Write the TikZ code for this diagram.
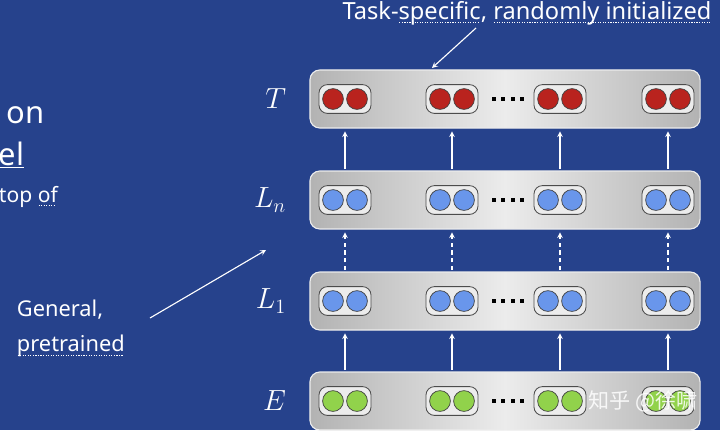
\documentclass[tikz,border=0pt]{standalone}
\usepackage{fontspec}
\setsansfont{Noto Sans}
\newfontfamily\cjkfont{Noto Sans CJK SC}
\usetikzlibrary{calc}
\definecolor{slideblue}{RGB}{38,66,140}
\definecolor{tokred}{RGB}{185,35,30}
\definecolor{tokblue}{RGB}{105,150,235}
\definecolor{tokgreen}{RGB}{145,210,75}
\newsavebox\spellbox
\newcommand\spellmark[1]{\leavevmode\sbox\spellbox{#1}\rlap{\usebox\spellbox}\raisebox{-2.6pt}{\hbox to \wd\spellbox{\leaders\hbox to 1.8pt{\hss\rule{0.8pt}{0.6pt}\hss}\hfill}}}
\tikzset{
  layerbox/.style={draw=white!85!gray, line width=0.8pt, rounded corners=7pt, minimum width=9.75cm, minimum height=1.45cm, left color=gray!60, right color=gray!60, middle color=gray!15},
  pairbox/.style={draw=black!70, line width=0.6pt, rounded corners=6pt, fill=gray!15, minimum width=1.3cm, minimum height=0.72cm},
  unit/.style={circle, draw=black!75, line width=0.5pt, fill=#1, minimum size=0.52cm, inner sep=0pt},
  layername/.style={text=white, font=\fontsize{20}{20}\selectfont, anchor=east},
  note/.style={text=white, font=\sffamily\fontsize{15.5}{25}\selectfont},
  upflow/.style={->, white, line width=0.8pt, shorten <=1pt, shorten >=2pt},
}
\begin{document}
\begin{tikzpicture}[x=0.025cm,y=-0.025cm,>=stealth]
\fill[slideblue] (0,0) rectangle (720,430);
\useasboundingbox (0,0) rectangle (720,430);
\begin{scope}
\clip (0,0) rectangle (720,430);
% the four layers, bottom one is cut by the page
\foreach \lay/\yy/\col/\lab in {T/99/tokred/T, Ln/200/tokblue/L_n, L1/301/tokblue/L_1, E/401/tokgreen/E}{
  \node[layerbox] (\lay) at (505,\yy) {};
  \node[layername] (\lay name) at (291,\yy) {$\lab$};
  \foreach \i/\xx in {1/345,2/452,3/560,4/668}{
    \node[pairbox] (\lay\i) at (\xx,\yy) {};
    \node[unit=\col] (\lay\i a) at ($(\lay\i)+(-12,0)$) {};
    \node[unit=\col] (\lay\i b) at ($(\lay\i)+(12,0)$) {};
  }
  \node[inner sep=0pt] (\lay dots) at (508,\yy) {\rule{2.8pt}{2.8pt}\hspace{3.8pt}\rule{2.8pt}{2.8pt}\hspace{3.8pt}\rule{2.8pt}{2.8pt}\hspace{3.8pt}\rule{2.8pt}{2.8pt}};
}
\foreach \i in {1,...,4}{
  \draw[upflow] (E\i |- E.north) -- (L1\i |- L1.south);
  \draw[upflow, dash pattern=on 3pt off 2.5pt] (L1\i |- L1.north) -- (Ln\i |- Ln.south);
  \draw[upflow] (Ln\i |- Ln.north) -- (T\i |- T.south);
}
% notes
\node[note, anchor=north, font=\sffamily\fontsize{16.8}{20}\selectfont] (tasknote) at (527,-4) {Task-\spellmark{specific}, \spellmark{randomly initialized}};
\coordinate (tasktail) at (476,28);
\coordinate (taskhead) at (432,68);
\draw[->, white, line width=0.8pt] (tasktail) -- (taskhead);
\node[note, align=left, anchor=north west] (gennote) at (12,295) {General,\\\spellmark{pretrained}};
\coordinate (gentail) at (150,318);
\coordinate (genhead) at (266,250);
\draw[->, white, line width=0.8pt] (gentail) -- (genhead);
% cut-off slide text on the left
\node[text=white, font=\sffamily\fontsize{22}{22}\selectfont, anchor=west] (cuton) at (2,115) {on};
\node[text=white, font=\sffamily\fontsize{22}{22}\selectfont, anchor=west] (cutel) at (-6,155) {\underline{el}};
\node[text=white, font=\sffamily\fontsize{15}{15}\selectfont, anchor=west] (cuttop) at (-6,197) {top \spellmark{of}};
\node[text=white, opacity=0.85, font=\cjkfont\fontsize{15}{15}\selectfont] (mark) at (643,401) {知乎 @徐啸};
\end{scope}
\end{tikzpicture}
\end{document}
